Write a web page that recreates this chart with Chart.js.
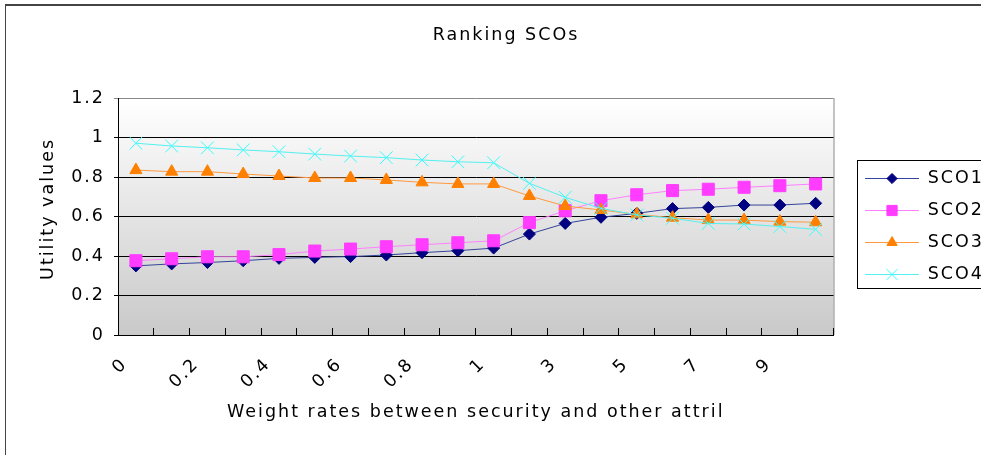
<!DOCTYPE html>
<html>
<head>
<meta charset="utf-8">
<script src="https://cdn.jsdelivr.net/npm/chart.js@4.4.1/dist/chart.umd.min.js"></script>
<style>
html, body { margin: 0; padding: 0; background: #fff; overflow: hidden; width: 981px; height: 455px; }
#frame { position: absolute; left: 5px; top: 4px; width: 1000px; height: 470px; border-left: 1px solid #444; border-top: 2px solid #444; }
canvas { display: block; }
</style>
</head>
<body>
<div id="frame"><canvas id="chart" width="1000" height="440"></canvas></div>
<script>
// categories (weight rates) and utility values per SCO
const weights = ['0', '0.1', '0.2', '0.3', '0.4', '0.5', '0.6', '0.7', '0.8', '0.9', '1', '2', '3', '4', '5', '6', '7', '8', '9', '10'];
const sco1 = [0.350, 0.360, 0.367, 0.376, 0.388, 0.393, 0.397, 0.405, 0.417, 0.427, 0.440, 0.511, 0.565, 0.596, 0.616, 0.640, 0.646, 0.658, 0.658, 0.667];
const sco2 = [0.376, 0.386, 0.396, 0.396, 0.407, 0.425, 0.435, 0.447, 0.457, 0.467, 0.477, 0.569, 0.629, 0.680, 0.710, 0.731, 0.738, 0.748, 0.756, 0.765];
const sco3 = [0.835, 0.827, 0.827, 0.815, 0.805, 0.795, 0.795, 0.785, 0.773, 0.765, 0.765, 0.704, 0.653, 0.633, 0.611, 0.594, 0.582, 0.582, 0.574, 0.571];
const sco4 = [0.971, 0.957, 0.948, 0.937, 0.928, 0.916, 0.906, 0.898, 0.886, 0.877, 0.872, 0.768, 0.697, 0.641, 0.608, 0.591, 0.565, 0.562, 0.549, 0.535];
const yTicks = [0, 0.2, 0.4, 0.6, 0.8, 1, 1.2];

const FONT = '"DejaVu Sans", Verdana, sans-serif';
const FS = 17.5;

const series = [
    { label: 'SCO1', data: sco1, color: '#000080', line: '#34449a', style: 'rectRot', r: 6 },
    { label: 'SCO2', data: sco2, color: '#ff3cff', line: '#ff80ff', style: 'rect', r: 8.5 },
    { label: 'SCO3', data: sco3, color: '#ff8000', line: '#ff9a40', style: 'triangle', r: 7 },
    { label: 'SCO4', data: sco4, color: '#33ffff', line: '#55f0f0', style: 'crossRot', r: 9 }
];

// legend pictures: blank lead-in, then the line sample with its marker
const LEAD = 17, SAMPLE = 54;
function legendIcon(s) {
    const c = document.createElement('canvas');
    c.width = LEAD + SAMPLE; c.height = 20;
    const g = c.getContext('2d');
    g.strokeStyle = s.line;
    g.lineWidth = 1;
    g.beginPath(); g.moveTo(LEAD, 10.5); g.lineTo(LEAD + SAMPLE, 10.5); g.stroke();
    g.fillStyle = s.color;
    g.strokeStyle = s.color;
    Chart.helpers.drawPoint(g, { pointStyle: s.style, radius: s.r * 0.85, borderWidth: 1, rotation: 0 }, LEAD + SAMPLE / 2, 10.5);
    return c;
}
const icons = series.map(legendIcon);

const wideText = {
    id: 'wideText',
    beforeUpdate(chart) { chart.ctx.letterSpacing = '2px'; },
    beforeDraw(chart) { chart.ctx.letterSpacing = '2px'; }
};

const plotBg = {
    id: 'plotBg',
    beforeDraw(chart) {
        const { ctx, chartArea: a } = chart;
        const g = ctx.createLinearGradient(0, a.top, 0, a.bottom);
        g.addColorStop(0, '#ffffff');
        g.addColorStop(1, '#c9c9c9');
        ctx.save();
        ctx.fillStyle = g;
        ctx.fillRect(a.left, a.top, a.right - a.left, a.bottom - a.top);
        ctx.strokeStyle = '#888';
        ctx.lineWidth = 1;
        ctx.beginPath();
        ctx.moveTo(a.right + 0.5, a.top);
        ctx.lineTo(a.right + 0.5, a.bottom);
        ctx.stroke();
        ctx.restore();
    },
    afterDraw(chart) {
        // frame round the legend
        const hb = chart.legend.legendHitBoxes;
        if (!hb || !hb.length) return;
        const ctx = chart.ctx;
        const last = hb[hb.length - 1];
        const top = hb[0].top - 9;
        const bottom = last.top + last.height + 5;
        const left = hb[0].left + LEAD - 8;
        ctx.save();
        ctx.strokeStyle = '#000';
        ctx.lineWidth = 1;
        ctx.strokeRect(Math.round(left) + 0.5, Math.round(top) + 0.5, 200, Math.round(bottom - top));
        ctx.restore();
    }
};

new Chart(document.getElementById('chart'), {
    type: 'line',
    data: {
        labels: weights,
        datasets: series.map((s, i) => ({
            label: s.label,
            data: s.data,
            borderColor: s.line,
            backgroundColor: s.color,
            borderWidth: 1,
            pointStyle: s.style,
            pointRadius: s.r,
            pointHoverRadius: s.r,
            pointBackgroundColor: s.color,
            pointBorderColor: s.color,
            pointBorderWidth: 1,
            tension: 0,
            order: series.length - i
        }))
    },
    options: {
        responsive: false,
        devicePixelRatio: 1,
        animation: false,
        layout: { padding: { left: 12, right: 12, top: 0, bottom: 0 } },
        plugins: {
            title: {
                display: true,
                text: 'Ranking SCOs',
                color: '#000',
                font: { family: FONT, size: FS, weight: 'normal' },
                padding: { top: 19, bottom: 52 }
            },
            legend: {
                position: 'right',
                maxWidth: 161,
                labels: {
                    usePointStyle: true,
                    pointStyleWidth: LEAD + SAMPLE,
                    color: '#000',
                    padding: 14.5,
                    font: { family: FONT, size: FS },
                    sort: (a, b) => a.datasetIndex - b.datasetIndex,
                    generateLabels: chart => Chart.defaults.plugins.legend.labels.generateLabels(chart)
                        .map(l => ({ ...l, pointStyle: icons[l.datasetIndex] }))
                }
            },
            tooltip: { enabled: false }
        },
        scales: {
            x: {
                type: 'category',
                offset: true,
                grid: { offset: true, drawOnChartArea: false, tickLength: -7, color: '#000' },
                border: { color: '#000', width: 1 },
                ticks: {
                    autoSkip: false,
                    minRotation: 45,
                    maxRotation: 45,
                    padding: 26,
                    labelOffset: -11,
                    color: '#000',
                    font: { family: FONT, size: FS },
                    callback: (v, i) => i % 2 === 0 ? weights[i] : ''
                },
                title: {
                    display: true,
                    text: 'Weight rates between security and other attril',
                    color: '#000',
                    font: { family: FONT, size: FS },
                    padding: { top: 0, bottom: 23.5 }
                },
                afterFit: scale => { scale.height = 111; }
            },
            y: {
                min: 0,
                max: 1.2,
                afterBuildTicks: scale => { scale.ticks = yTicks.map(v => ({ value: v })); },
                grid: {
                    color: c => c.tick && c.tick.value === 1.2 ? '#888' : '#000',
                    tickLength: 4
                },
                border: { color: '#000', width: 1 },
                ticks: {
                    padding: 9,
                    color: '#000',
                    font: { family: FONT, size: FS },
                    callback: v => String(+v.toFixed(1))
                },
                title: {
                    display: true,
                    text: '  Utility values',
                    color: '#000',
                    font: { family: FONT, size: FS },
                    padding: { top: 19.5, bottom: 0 }
                },
                afterFit: scale => { scale.width = 100; }
            }
        }
    },
    plugins: [wideText, plotBg]
});
</script>
</body>
</html>
